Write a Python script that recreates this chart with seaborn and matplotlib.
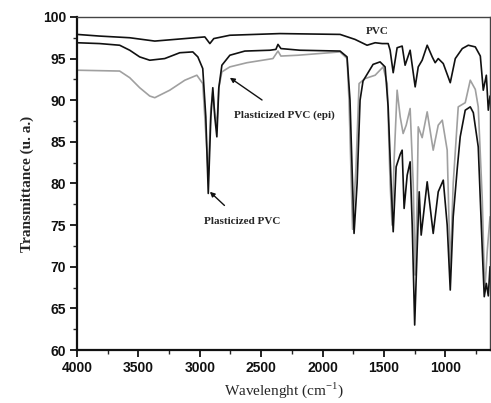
import numpy as np
import pandas as pd
import matplotlib
matplotlib.use("Agg")
import matplotlib.pyplot as plt
import seaborn as sns
from matplotlib.ticker import MultipleLocator

# ---- data: wavenumber (cm-1) and transmittance (%) ----
pvc_wn = [4000, 3816, 3571, 3367, 3122, 2959, 2918, 2886, 2755, 2347, 1857, 1735,
          1637, 1571, 1514, 1465, 1449, 1424, 1392, 1351, 1327, 1286, 1245, 1220,
          1188, 1147, 1106, 1082, 1057, 1016, 959, 918, 861, 812, 755, 714, 690,
          665, 649, 635]
pvc_t = [97.9, 97.7, 97.5, 97.1, 97.4, 97.6, 96.8, 97.4, 97.8, 98.0, 97.9, 97.3,
         96.6, 96.9, 96.8, 96.8, 96.0, 93.3, 96.3, 96.5, 94.2, 96.0, 91.6, 94.0,
         94.8, 96.6, 95.2, 94.5, 95.0, 94.4, 92.1, 95.0, 96.2, 96.6, 96.4, 95.3, 91.2,
         93.0, 88.8, 90.5]

plast_wn = [4000, 3816, 3653, 3571, 3490, 3408, 3286, 3163, 3057, 3016, 2976, 2951,
            2931, 2910, 2894, 2878, 2861, 2845, 2820, 2755, 2633, 2429, 2380, 2363,
            2339, 2184, 1857, 1800, 1776, 1743, 1718, 1694, 1670, 1588, 1531, 1490,
            1465, 1441, 1424, 1400, 1367, 1351, 1335, 1310, 1286, 1269, 1249, 1229,
            1212, 1196, 1147, 1098, 1057, 1016, 984, 959, 935, 902, 878, 837, 796,
            771, 731, 698, 682, 665, 649, 635]
plast_t = [96.9, 96.8, 96.6, 96.0, 95.2, 94.8, 95.0, 95.7, 95.8, 95.2, 93.8, 88.0,
           78.8, 88.0, 91.5, 88.0, 85.6, 91.5, 94.2, 95.4, 95.9, 96.0, 96.1, 96.7,
           96.2, 96.0, 95.9, 95.2, 90.0, 74.0, 80.0, 90.0, 92.3, 94.3, 94.6, 94.0,
           89.2, 80.0, 74.2, 82.0, 83.5, 84.0, 77.0, 81.0, 82.6, 75.0, 63.0, 72.0,
           79.0, 73.8, 80.2, 74.0, 79.0, 80.4, 75.0, 67.2, 76.0, 81.8, 85.6, 88.8,
           89.2, 88.5, 84.4, 72.0, 66.4, 68.0, 66.5, 70.0]

epi_wn = [4000, 3653, 3571, 3490, 3408, 3367, 3245, 3122, 3024, 2976, 2951, 2931,
          2910, 2894, 2878, 2861, 2845, 2820, 2755, 2616, 2404, 2363, 2339, 2200,
          1857, 1800, 1784, 1755, 1727, 1702, 1653, 1571, 1506, 1473, 1449, 1433,
          1416, 1392, 1367, 1343, 1318, 1286, 1261, 1245, 1229, 1220, 1188, 1147,
          1098, 1057, 1024, 984, 959, 935, 894, 837, 796, 755, 731, 698, 678, 657, 635]
epi_t = [93.6, 93.5, 92.7, 91.5, 90.5, 90.3, 91.2, 92.4, 93.0, 92.0, 86.0, 81.0,
         89.0, 91.0, 88.5, 87.0, 91.5, 93.4, 94.0, 94.5, 95.0, 95.9, 95.3, 95.4,
         95.8, 95.0, 90.0, 74.5, 82.0, 92.0, 92.6, 93.0, 94.0, 92.0, 80.0, 75.0,
         83.0, 91.2, 88.0, 86.0, 87.0, 89.0, 80.0, 69.0, 78.0, 86.8, 85.5, 88.6,
         84.0, 87.0, 87.6, 84.0, 69.5, 80.0, 89.2, 89.7, 92.4, 91.3, 89.2, 78.0,
         67.0, 72.0, 76.0]

x_ticks = [4000, 3500, 3000, 2500, 2000, 1500, 1000]
y_ticks = [60, 65, 70, 75, 80, 85, 90, 95, 100]

df = pd.concat([
    pd.DataFrame({"wn": epi_wn, "T": epi_t, "s": "Plasticized PVC (epi)"}),
    pd.DataFrame({"wn": plast_wn, "T": plast_t, "s": "Plasticized PVC"}),
    pd.DataFrame({"wn": pvc_wn, "T": pvc_t, "s": "PVC"}),
])

sns.set_style("ticks")
plt.rcParams["font.family"] = ["Liberation Sans", "DejaVu Sans"]

fig = plt.figure(figsize=(4.91, 4.03), dpi=100)
ax = fig.add_axes([0.157, 0.1315, 0.841, 0.8265])

colors = {"Plasticized PVC (epi)": "#a0a0a0", "Plasticized PVC": "#111111", "PVC": "#111111"}
for name in ["Plasticized PVC (epi)", "Plasticized PVC", "PVC"]:
    sub = df[df["s"] == name]
    sns.lineplot(data=sub, x="wn", y="T", ax=ax, color=colors[name],
                 linewidth=1.2, sort=False, estimator=None, legend=False)

ax.set_xlim(4000, 635)
ax.set_ylim(60, 100)
ax.set_xticks(x_ticks)
ax.set_yticks(y_ticks)
ax.xaxis.set_minor_locator(MultipleLocator(250))
ax.yaxis.set_minor_locator(MultipleLocator(2.5))
ax.tick_params(axis="both", which="major", direction="out", length=5, width=1.3,
               labelsize=10, pad=3, colors="#111111")
ax.tick_params(axis="both", which="minor", direction="out", length=3, width=1.0)
for lab in ax.get_xticklabels() + ax.get_yticklabels():
    lab.set_fontweight("bold")

for sp in ["left", "bottom"]:
    ax.spines[sp].set_linewidth(1.6)
    ax.spines[sp].set_color("#111111")
for sp in ["top", "right"]:
    ax.spines[sp].set_visible(True)
    ax.spines[sp].set_linewidth(1.0)
    ax.spines[sp].set_color("#444444")

serif = ["Liberation Serif", "DejaVu Serif"]
ax.set_xlabel("Wavelenght (cm$^{\\mathregular{-1}}$)", family=serif, fontsize=11, labelpad=4)
ax.set_ylabel("Transmittance (u. a.)", family=serif, fontsize=11, fontweight="bold", labelpad=6)

ax.text(1555, 98.2, "PVC", family=serif, fontsize=8, fontweight="bold",
        ha="center", va="center")
ax.annotate("Plasticized PVC (epi)", xy=(2755, 92.7), xytext=(2314, 88.2),
            family=serif, fontsize=8, fontweight="bold", ha="center", va="center",
            arrowprops=dict(arrowstyle="-|>", color="#111111", lw=1.0,
                            shrinkA=9, shrinkB=0, mutation_scale=7))
ax.annotate("Plasticized PVC", xy=(2918, 79.0), xytext=(2657, 75.4),
            family=serif, fontsize=8, fontweight="bold", ha="center", va="center",
            arrowprops=dict(arrowstyle="-|>", color="#111111", lw=1.0,
                            shrinkA=9, shrinkB=0, mutation_scale=7))

fig.savefig("out.png", dpi=100)
